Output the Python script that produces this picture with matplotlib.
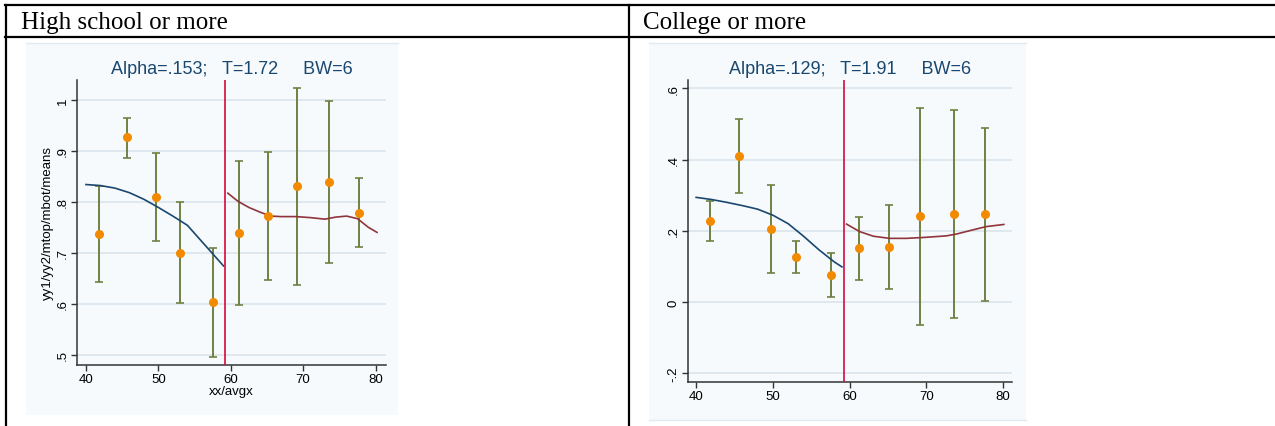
import matplotlib.pyplot as plt
from matplotlib.patches import Rectangle
from matplotlib.lines import Line2D

# ---- data ----
bin_x = [41.8, 45.6, 49.7, 53.0, 57.6, 61.2, 65.1, 69.2, 73.6, 77.7]

hs_mean = [0.737, 0.927, 0.810, 0.700, 0.603, 0.739, 0.773, 0.832, 0.839, 0.779]
hs_hi = [0.832, 0.965, 0.896, 0.799, 0.709, 0.881, 0.898, 1.024, 0.998, 0.847]
hs_lo = [0.642, 0.887, 0.724, 0.601, 0.496, 0.597, 0.646, 0.637, 0.680, 0.711]

col_mean = [0.228, 0.409, 0.206, 0.127, 0.076, 0.151, 0.156, 0.242, 0.248, 0.246]
col_hi = [0.283, 0.513, 0.329, 0.173, 0.137, 0.240, 0.273, 0.544, 0.540, 0.489]
col_lo = [0.172, 0.306, 0.083, 0.082, 0.015, 0.063, 0.037, -0.063, -0.045, 0.003]

fit_left_x = [40, 42, 44, 46, 48, 50, 52, 54, 56, 58, 59]
hs_fit_left = [0.834, 0.832, 0.827, 0.818, 0.805, 0.789, 0.772, 0.754, 0.722, 0.690, 0.674]
col_fit_left = [0.294, 0.288, 0.280, 0.271, 0.261, 0.244, 0.220, 0.185, 0.147, 0.113, 0.099]

hs_fit_right_x = [59.6, 61, 62.5, 64, 65.5, 67, 69, 71, 73, 74.5, 76, 77.5, 79, 80.2]
hs_fit_right = [0.817, 0.801, 0.789, 0.780, 0.772, 0.771, 0.771, 0.769, 0.766, 0.770,
                0.772, 0.767, 0.750, 0.740]
col_fit_right_x = [59.6, 61.3, 63.1, 65.2, 67.4, 70.0, 72.6, 73.9, 76.1, 77.8, 80.1]
col_fit_right = [0.219, 0.198, 0.185, 0.179, 0.179, 0.182, 0.186, 0.191, 0.203, 0.212, 0.218]

cutoff = 59.25
panel_titles = ["High school or more", "College or more"]
stats = ["Alpha=.153;   T=1.72     BW=6", "Alpha=.129;   T=1.91     BW=6"]
hs_yticks = [0.5, 0.6, 0.7, 0.8, 0.9, 1.0]
hs_ylabels = [".5", ".6", ".7", ".8", ".9", "1"]
col_yticks = [-0.2, 0, 0.2, 0.4, 0.6]
col_ylabels = ["-.2", "0", ".2", ".4", ".6"]

W, H = 1275, 427
plt.rcParams['font.family'] = ['Liberation Sans', 'DejaVu Sans']
fig = plt.figure(figsize=(W / 100, H / 100), dpi=100)


def fx(px):
    return px / W


def fy(py):
    return 1 - py / H


# table borders
lw_tab = 1.6
fig.add_artist(Line2D([fx(5), 1], [fy(6), fy(6)], color='black', lw=lw_tab))
fig.add_artist(Line2D([fx(5), 1], [fy(37.5), fy(37.5)], color='black', lw=lw_tab))
fig.add_artist(Line2D([fx(5.5), fx(5.5)], [fy(6), 0], color='black', lw=lw_tab))
fig.add_artist(Line2D([fx(629), fx(629)], [fy(6), 0], color='black', lw=lw_tab))
fig.text(fx(21), fy(28.5), panel_titles[0], family='Liberation Serif', fontsize=18,
         va='baseline', ha='left')
fig.text(fx(643), fy(28.5), panel_titles[1], family='Liberation Serif', fontsize=18,
         va='baseline', ha='left')

bg = '#f6fafc'
# graph images
for (x0, y0, x1, y1) in [(26.5, 44, 398, 416), (649, 44, 1026, 420.7)]:
    fig.add_artist(Rectangle((fx(x0), fy(y1)), fx(x1) - fx(x0), fy(y0) - fy(y1),
                             facecolor=bg, edgecolor='none', zorder=0))
    fig.add_artist(Line2D([fx(x0), fx(x1)], [fy(y0), fy(y0)], color='#e2eaf0', lw=1))
fig.add_artist(Line2D([fx(649), fx(1026)], [fy(420.7), fy(420.7)], color='#e2eaf0', lw=1))

ax1 = fig.add_axes([fx(77.3), fy(365.7), fx(385.7) - fx(77.3), fy(80.7) - fy(365.7)])
ax2 = fig.add_axes([fx(687.7), fy(382.7), fx(1012.3) - fx(687.7), fy(80.7) - fy(382.7)])

panels = [
    (ax1, hs_mean, hs_lo, hs_hi, hs_fit_left, hs_fit_right_x, hs_fit_right,
     hs_yticks, hs_ylabels, (0.48, 1.04), (38.8, 81.4)),
    (ax2, col_mean, col_lo, col_hi, col_fit_left, col_fit_right_x, col_fit_right,
     col_yticks, col_ylabels, (-0.223, 0.624), (38.9, 81.2)),
]

for ax, mean, lo, hi, fl, frx, fr, yt, yl, ylim, xlim in panels:
    ax.set_facecolor(bg)
    ax.set_xlim(*xlim)
    ax.set_ylim(*ylim)
    for t in yt:
        ax.axhline(t, color='#dde5ee', lw=1.3, zorder=1)
    yerr = [[m - l for m, l in zip(mean, lo)], [h - m for m, h in zip(mean, hi)]]
    ax.errorbar(bin_x, mean, yerr=yerr, fmt='none', ecolor='#6f8142', elinewidth=1.4,
                capsize=3, capthick=1.2, zorder=2)
    ax.plot(bin_x, mean, 'o', color='#f28a00', ms=6.5, mec='none', zorder=4)
    ax.plot(fit_left_x, fl, color='#1a476f', lw=1.2, zorder=3)
    ax.plot(frx, fr, color='#90353b', lw=1.2, zorder=3)
    ax.axvline(cutoff, color='#d40a3c', lw=1.2, zorder=3)
    ax.set_xticks([40, 50, 60, 70, 80])
    ax.set_yticks(yt)
    ax.set_yticklabels(yl, rotation=90, va='center')
    for s in ['top', 'right']:
        ax.spines[s].set_visible(False)
    for s in ['left', 'bottom']:
        ax.spines[s].set_color('#333333')
        ax.spines[s].set_linewidth(1.1)
    ax.tick_params(labelsize=9.5, length=4, width=1, color='#333333', pad=2)

ax1.set_ylabel("yy1/yy2/mtop/mbot/means", fontsize=9.5, labelpad=2)
ax1.set_xlabel("xx/avgx", fontsize=9.5, labelpad=0)

fig.text((fx(77.3) + fx(385.7)) / 2, fy(69), stats[0], fontsize=13, color='#1a476f',
         ha='center', va='center')
fig.text((fx(687.7) + fx(1012.3)) / 2, fy(69), stats[1], fontsize=13, color='#1a476f',
         ha='center', va='center')

fig.savefig('out.png', dpi=100)
